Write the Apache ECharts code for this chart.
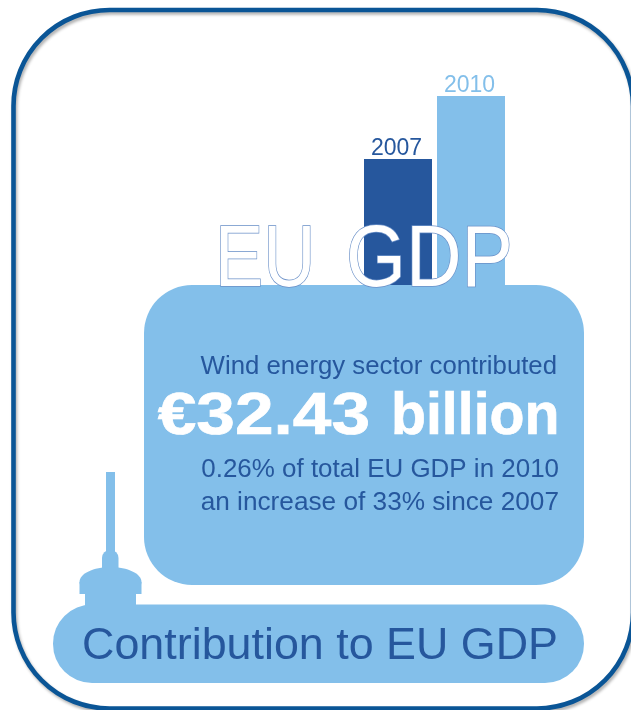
<!DOCTYPE html>
<html>
<head>
<meta charset="utf-8">
<style>
  html, body { margin: 0; padding: 0; background: #fff; overflow: hidden; }
  #chart { width: 631px; height: 710px; }
</style>
<script src="https://cdn.jsdelivr.net/npm/echarts@6/dist/echarts.min.js"></script>
</head>
<body>
<div id="chart"></div>
<script>
// Wind energy sector contribution to EU GDP, billions of euros
const years = ['2007', '2010'];
const contribution = [24.38, 32.43];

const headlineWords = ['EU', 'GDP'];
const introLine = 'Wind energy sector contributed';
const amountWords = ['€32.43', 'billion'];
const shareLine = '0.26% of total EU GDP in 2010';
const growthLine = 'an increase of 33% since 2007';
const footerLine = 'Contribution to EU GDP';

const DARK = '#26579d';
const LIGHT = '#83bfea';
const barColors = [DARK, LIGHT];
const FONT = '"Liberation Sans", Arial, sans-serif';

function label(text, x, y, size, fill, scaleX, weight) {
  return {
    type: 'text', z: 20, x: x, y: y, scaleX: scaleX || 1,
    style: {
      text: text, x: 0, y: 0, fill: fill,
      stroke: weight ? fill : null, lineWidth: weight ? 0.7 : 0,
      font: (weight || 'normal') + ' ' + size + 'px ' + FONT,
      textAlign: 'right', textVerticalAlign: 'middle'
    }
  };
}

function outlined(text, x, scaleX) {
  return {
    type: 'text', z: 12, x: x, y: 262, scaleX: scaleX,
    style: {
      text: text, x: 0, y: 0, fill: '#fff', stroke: '#6a90c8', lineWidth: 1.5,
      font: 'normal 88px ' + FONT, textAlign: 'left', textVerticalAlign: 'middle'
    }
  };
}

function lightRect(x, y, width, height, r) {
  return { type: 'rect', z: 10, shape: { x: x, y: y, width: width, height: height, r: r || 0 }, style: { fill: LIGHT } };
}

const chart = echarts.init(document.getElementById('chart'), null, { renderer: 'canvas' });
chart.setOption({
  animation: false,
  backgroundColor: '#fff',
  // The plot runs down behind the info panel, so bars keep a true zero base
  grid: { left: 361.5, width: 146, top: 96, height: 254 },
  xAxis: { type: 'category', data: years, show: false },
  yAxis: { type: 'value', min: 0, max: 32.43, show: false },
  series: [{
    type: 'bar',
    barWidth: 68,
    z: 2,
    data: contribution.map((v, i) => ({
      value: v,
      itemStyle: { color: barColors[i] },
      label: {
        show: true, position: 'top', distance: 0, offset: [-1.5, 1],
        formatter: years[i], color: barColors[i],
        fontFamily: FONT, fontSize: 23
      }
    }))
  }],
  graphic: { elements: [
    // Outer frame
    { type: 'rect', z: 1,
      shape: { x: 13.5, y: 10, width: 619.5, height: 698.5, r: 96 },
      style: { fill: 'none', stroke: '#0a5596', lineWidth: 4.6,
               shadowColor: 'rgba(0,0,0,0.3)', shadowBlur: 3, shadowOffsetX: 1.5, shadowOffsetY: 2.5 } },
    // Info panel
    lightRect(144, 285, 440, 300, 48),
    // Outlined headline over the bars
    outlined(headlineWords[0], 215, 0.82),
    outlined(headlineWords[1], 346, 0.875),
    // Footer pill with turbine silhouette
    lightRect(53, 604.5, 531, 78.5, 39),
    lightRect(106, 472, 9, 90),
    lightRect(102, 550, 16.5, 24, [8, 8, 0, 0]),
    { type: 'ellipse', z: 10, shape: { cx: 110.5, cy: 582, rx: 31, ry: 15 }, style: { fill: LIGHT } },
    lightRect(79.5, 582, 62, 12),
    lightRect(85, 590, 51, 20),
    label(introLine, 557, 367.5, 25, DARK, 1.03),
    label(amountWords[0], 370, 417, 60, '#fff', 1.157, 'bold'),
    label(amountWords[1], 559.5, 417, 60, '#fff', 0.954, 'bold'),
    label(shareLine, 559, 470.5, 25, DARK, 1.038),
    label(growthLine, 559, 503, 25, DARK, 1.048),
    label(footerLine, 558, 646.5, 44, DARK, 1.019)
  ] }
});
</script>
</body>
</html>
